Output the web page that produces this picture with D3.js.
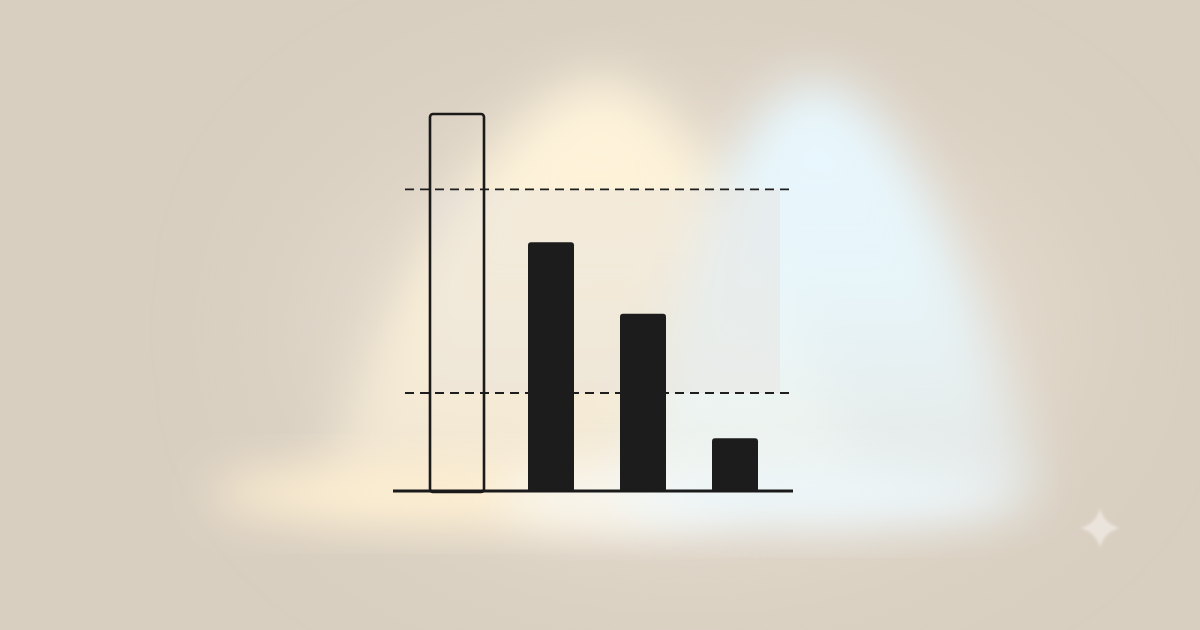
<!DOCTYPE html>
<head>
  <meta charset="utf-8">
  <style>
    html, body { margin:0; padding:0; background:#d9cfc2; }
    svg { display:block; }
  </style>
</head>
<body>
  <script src="https://d3js.org/d3.v7.min.js"></script>
  <script>

    // DATA
    const categories = ["A", "B", "C", "D"];
    const values = [100, 66, 47, 14];
    const outlined = [true, false, false, false];
    const refLines = [80, 26];

    // DIMENSIONS
    const width = 1200, height = 630;

    const x = d3.scaleBand()
      .domain(categories)
      .range([413, 781])
      .paddingInner(0.5)
      .paddingOuter(0.25);

    const y = d3.scaleLinear()
      .domain([0, 100])
      .range([491, 114]);

    const svg = d3.select("body").append("svg")
      .attr("width", width)
      .attr("height", height);

    const defs = svg.append("defs");

    function blur(id, sd) {
      defs.append("filter").attr("id", id)
        .attr("x", "-50%").attr("y", "-50%").attr("width", "200%").attr("height", "200%")
        .append("feGaussianBlur").attr("stdDeviation", sd);
    }
    blur("halo", 70);
    blur("cone", 26);
    blur("floor", 24);
    blur("tiny", 1.5);

    // fading light gradients (top bright, bottom softer)
    function fade(id, color, bottom) {
      const g = defs.append("linearGradient").attr("id", id)
        .attr("x1", 0).attr("y1", 0).attr("x2", 0).attr("y2", 1);
      g.append("stop").attr("offset", "0%").attr("stop-color", color).attr("stop-opacity", 1);
      g.append("stop").attr("offset", "45%").attr("stop-color", color).attr("stop-opacity", 0.9);
      g.append("stop").attr("offset", "100%").attr("stop-color", color).attr("stop-opacity", bottom);
    }
    fade("warm", "#fff4da", 0.45);
    fade("cool", "#e8f8ff", 0.5);

    // BACKGROUND
    svg.append("rect").attr("width", width).attr("height", height).attr("fill", "#d9cfc1");

    // LIGHTS
    const lights = svg.append("g");

    // ambient halo
    lights.append("ellipse")
      .attr("cx", 690).attr("cy", 330).attr("rx", 380).attr("ry", 230)
      .attr("fill", "#e4dacd").attr("filter", "url(#halo)");

    // warm cone
    lights.append("path")
      .attr("d", "M320,500 C375,300 515,80 600,80 C685,80 805,300 860,500 Z")
      .attr("fill", "url(#warm)").attr("filter", "url(#cone)");
    // cool cone
    lights.append("path")
      .attr("d", "M620,500 C675,300 735,82 815,82 C895,82 990,300 1040,500 Z")
      .attr("fill", "url(#cool)").attr("filter", "url(#cone)");

    // floor glow
    lights.append("ellipse")
      .attr("cx", 440).attr("cy", 494).attr("rx", 230).attr("ry", 30)
      .attr("fill", "#fff0d2").attr("filter", "url(#floor)");
    lights.append("ellipse")
      .attr("cx", 620).attr("cy", 496).attr("rx", 120).attr("ry", 32)
      .attr("fill", "#f8f6f0").attr("filter", "url(#floor)");
    lights.append("ellipse")
      .attr("cx", 820).attr("cy", 494).attr("rx", 200).attr("ry", 32)
      .attr("fill", "#edf7fb").attr("filter", "url(#floor)");

    // frosted band between reference lines
    svg.append("rect")
      .attr("x", x("A") - 4)
      .attr("y", y(refLines[0]))
      .attr("width", 780 - x("A") + 4)
      .attr("height", y(refLines[1]) - y(refLines[0]))
      .attr("fill", "#e4e1dc").attr("opacity", 0.42);

    // REFERENCE LINES
    svg.selectAll("line.ref")
      .data(refLines)
      .enter().append("line")
        .attr("class", "ref")
        .attr("x1", 405).attr("x2", 793)
        .attr("y1", d => y(d)).attr("y2", d => y(d))
        .attr("stroke", "#1e1e1e").attr("stroke-width", 1.8)
        .attr("stroke-dasharray", "9,6");

    // BARS
    const bars = categories.map((c, i) => ({ c, v: values[i], o: outlined[i] }));

    svg.selectAll("rect.bar")
      .data(bars)
      .enter().append("rect")
        .attr("class", "bar")
        .attr("x", d => d.o ? x(d.c) - 6 : x(d.c))
        .attr("width", d => d.o ? x.bandwidth() + 8 : x.bandwidth())
        .attr("y", d => y(d.v))
        .attr("height", d => y(0) - y(d.v) + 1)
        .attr("rx", 3)
        .attr("fill", d => d.o ? "none" : "#1c1c1c")
        .attr("stroke", d => d.o ? "#1a1a1a" : "none")
        .attr("stroke-width", 2.6);

    // BASELINE
    svg.append("line")
      .attr("x1", 393).attr("x2", 793)
      .attr("y1", y(0)).attr("y2", y(0))
      .attr("stroke", "#1a1a1a").attr("stroke-width", 2.8);

    // SPARKLE
    const sx = 1100, sy = 528, r = 20, k = 4;
    svg.append("path")
      .attr("d", `M${sx},${sy - r} Q${sx + k},${sy - k} ${sx + r},${sy} Q${sx + k},${sy + k} ${sx},${sy + r} Q${sx - k},${sy + k} ${sx - r},${sy} Q${sx - k},${sy - k} ${sx},${sy - r} Z`)
      .attr("fill", "#f2eee8").attr("opacity", 0.7).attr("filter", "url(#tiny)");

  </script>
</body>
